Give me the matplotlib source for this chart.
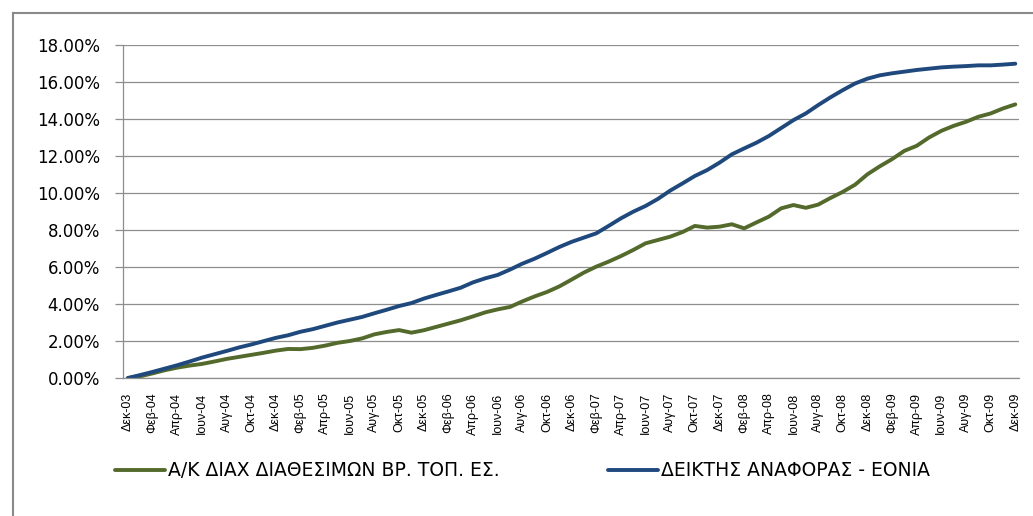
import matplotlib
matplotlib.use("Agg")
import matplotlib.pyplot as plt
from matplotlib.lines import Line2D
from matplotlib.ticker import FuncFormatter

# ---- data (cumulative returns, %) : monthly Dec-03 .. Dec-09 ----
month_abbr = ["Ιαν", "Φεβ", "Μαρ", "Απρ", "Μαϊ", "Ιουν",
              "Ιουλ", "Αυγ", "Σεπ", "Οκτ", "Νοε", "Δεκ"]
start_year = 2003
start_month = 12  # December

fund_series = [0, 0.09, 0.25, 0.42, 0.56, 0.67, 0.76, 0.89, 1.03, 1.14,
               1.25, 1.36, 1.48, 1.57, 1.56, 1.63, 1.75, 1.90, 2.00, 2.14,
               2.36, 2.49, 2.59, 2.45, 2.58, 2.76, 2.94, 3.12, 3.33, 3.55,
               3.71, 3.84, 4.14, 4.41, 4.65, 4.95, 5.32, 5.70, 6.02, 6.29,
               6.59, 6.92, 7.28, 7.46, 7.64, 7.89, 8.22, 8.13, 8.18, 8.31,
               8.09, 8.41, 8.72, 9.17, 9.35, 9.20, 9.37, 9.73, 10.06, 10.45,
               11.01, 11.44, 11.83, 12.28, 12.55, 13.00, 13.36, 13.63, 13.85, 14.12,
               14.30, 14.57, 14.79]

eonia_series = [0, 0.16, 0.33, 0.51, 0.69, 0.89, 1.10, 1.28, 1.46, 1.65,
                1.81, 1.99, 2.17, 2.31, 2.50, 2.64, 2.82, 3.00, 3.15, 3.30,
                3.50, 3.69, 3.89, 4.05, 4.29, 4.49, 4.68, 4.88, 5.17, 5.39,
                5.57, 5.86, 6.18, 6.45, 6.76, 7.08, 7.36, 7.59, 7.82, 8.22,
                8.63, 8.99, 9.30, 9.68, 10.13, 10.52, 10.92, 11.24, 11.64, 12.09,
                12.41, 12.72, 13.08, 13.51, 13.94, 14.30, 14.75, 15.17, 15.56, 15.92,
                16.18, 16.36, 16.47, 16.56, 16.65, 16.72, 16.79, 16.83, 16.86, 16.90,
                16.90, 16.94, 16.99]

series_names = ["Α/Κ ΔΙΑΧ ΔΙΑΘΕΣΙΜΩΝ ΒΡ. ΤΟΠ. ΕΣ.", "ΔΕΙΚΤΗΣ ΑΝΑΦΟΡΑΣ - ΕΟΝΙΑ"]
series_colors = ["#536A2C", "#1F497D"]
y_ticks = [0, 2, 4, 6, 8, 10, 12, 14, 16, 18]

# month labels
labels = []
for k in range(len(fund_series)):
    m = (start_month - 1 + k) % 12
    y = start_year + (start_month - 1 + k) // 12
    labels.append(f"{month_abbr[m]}-{y % 100:02d}")
x = list(range(len(fund_series)))

# ---- figure ----
plt.rcParams["font.family"] = ["DejaVu Sans"]
fig = plt.figure(figsize=(10.33, 5.16), dpi=100)
ax = fig.add_axes([123 / 1033, 1 - 378 / 516, (1019 - 123) / 1033, (378 - 45) / 516])

grid_c = "#8E8E8E"
ax.set_ylim(0, 18)
ax.set_xlim(-0.4, 72.3)
ax.set_yticks(y_ticks)
ax.yaxis.set_major_formatter(FuncFormatter(lambda v, p: f"{v:.2f}%"))
ax.grid(axis="y", color=grid_c, linewidth=0.9)
ax.set_axisbelow(True)

for s in ["top", "right"]:
    ax.spines[s].set_visible(False)
ax.spines["left"].set_color(grid_c)
ax.spines["bottom"].set_color(grid_c)
ax.spines["left"].set_linewidth(0.9)
ax.spines["bottom"].set_linewidth(0.9)

ax.tick_params(axis="y", length=5.8, width=0.9, color=grid_c, pad=10.8,
               labelsize=12, labelcolor="#000000")

ax.set_xticks(x[::2])
ax.set_xticklabels(labels[::2], rotation=90, ha="center", va="top",
                   fontfamily="Liberation Sans", fontsize=9)
ax.tick_params(axis="x", length=0, pad=10.5)

l1, = ax.plot(x, fund_series, color=series_colors[0], lw=2.8,
              solid_capstyle="round", label=series_names[0])
l2, = ax.plot(x, eonia_series, color=series_colors[1], lw=2.8,
              solid_capstyle="round", label=series_names[1])

# legends
leg_kw = dict(frameon=False, fontsize=13.5, handlelength=2.65, handletextpad=0.18,
              borderpad=0, borderaxespad=0, loc="center left")
fig.legend(handles=[l1], bbox_to_anchor=(115 / 1033, 1 - 470.7 / 516), **leg_kw)
fig.legend(handles=[l2], bbox_to_anchor=(608 / 1033, 1 - 470.7 / 516), **leg_kw)

# chart area border (left and top edges visible)
border_c = "#8A8A8A"
fig.add_artist(Line2D([13 / 1033, 13 / 1033], [0, 1 - 13 / 516],
                      transform=fig.transFigure, color=border_c, lw=1.5))
fig.add_artist(Line2D([13 / 1033, 1], [1 - 13 / 516, 1 - 13 / 516],
                      transform=fig.transFigure, color=border_c, lw=1.5))

fig.savefig("out.png", dpi=100)
